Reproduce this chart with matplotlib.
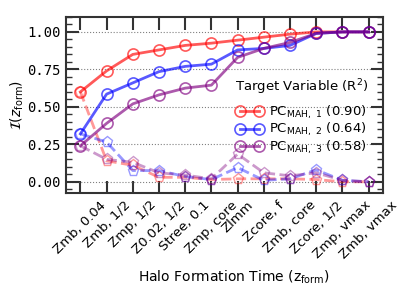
import matplotlib
matplotlib.use("Agg")
import matplotlib.pyplot as plt
from matplotlib.ticker import MultipleLocator

# formation-time definitions on the x axis
zform_labels = [
    "Zmb, 0.04", "Zmb, 1/2", "Zmp, 1/2", "Z0.02, 1/2", "Stree, 0.1", "Zmp, core",
    "Zlmm", "Zcore, f", "Zmb, core", "Zcore, 1/2", "Zmp, vmax", "Zmb, vmax",
]

# cumulative information (solid) and incremental information (dashed)
pc1_cum = [0.60, 0.74, 0.85, 0.88, 0.91, 0.925, 0.945, 0.965, 0.985, 1.0, 1.0, 1.0]
pc1_inc = [0.60, 0.14, 0.11, 0.03, 0.03, 0.015, 0.02, 0.02, 0.02, 0.015, 0.0, 0.0]
pc2_cum = [0.32, 0.585, 0.66, 0.735, 0.77, 0.785, 0.88, 0.89, 0.91, 0.99, 1.0, 1.0]
pc2_inc = [0.32, 0.265, 0.075, 0.075, 0.035, 0.015, 0.095, 0.01, 0.02, 0.08, 0.01, 0.0]
pc3_cum = [0.24, 0.39, 0.52, 0.58, 0.625, 0.645, 0.83, 0.89, 0.93, 0.99, 1.0, 1.0]
pc3_inc = [0.24, 0.15, 0.13, 0.06, 0.045, 0.02, 0.185, 0.06, 0.04, 0.06, 0.01, 0.0]

series = [
    (r"PC$_{\rm MAH,\ 1}$ (0.90)", "red", pc1_cum, pc1_inc),
    (r"PC$_{\rm MAH,\ 2}$ (0.64)", "blue", pc2_cum, pc2_inc),
    (r"PC$_{\rm MAH,\ 3}$ (0.58)", "purple", pc3_cum, pc3_inc),
]

fig = plt.figure(figsize=(4.15, 2.97), dpi=100)
ax = fig.add_axes([0.159, 0.350, 0.764, 0.593])

x = list(range(len(zform_labels)))
for label, color, cum, inc in series:
    ax.plot(x, inc, ls="--", lw=2, color=color, alpha=0.4, marker="p",
            ms=8, mfc="none", mew=1.0)
    ax.plot(x, cum, ls="-", lw=2, color=color, alpha=0.65, marker="o",
            ms=8, mfc="none", mew=1.2, label=label)

ax.set_xlim(-0.55, 11.55)
ax.set_xticks(x)
ax.set_xticklabels(zform_labels, rotation=45, ha="center", fontsize=9.5)
ax.set_yticks([0.0, 0.25, 0.5, 0.75, 1.0])
ax.set_yticklabels(["0.00", "0.25", "0.50", "0.75", "1.00"],
                   family="DejaVu Sans Mono", fontsize=10)
ax.yaxis.set_minor_locator(MultipleLocator(0.05))
ax.set_ylim(-0.075, 1.1)
ax.grid(axis="y", ls=":", color="grey", lw=0.8)

ax.tick_params(which="both", direction="in", top=True, right=True, width=1.5,
               color="#333333")
ax.tick_params(which="major", length=9)
ax.tick_params(which="minor", length=4, width=1.0)
ax.tick_params(axis="x", which="minor", bottom=False, top=False)
ax.tick_params(axis="x", pad=4)
for sp in ax.spines.values():
    sp.set_linewidth(1.5)
    sp.set_color("#333333")

ax.set_ylabel(r"$\mathcal{I}(z_{\rm form})$", fontsize=10, labelpad=1)
ax.set_xlabel(r"Halo Formation Time (z$_{\rm form}$)", fontsize=10)
ax.xaxis.set_label_coords(0.53, -0.43)

leg = ax.legend(title=r"Target Variable (R$^2$)", loc="center right",
                bbox_to_anchor=(0.99, 0.435), frameon=False, fontsize=9.5,
                title_fontsize=9.5, numpoints=2, handlelength=2.0,
                handletextpad=0.5, labelspacing=0.0)
leg._legend_box.sep = 5

fig.savefig("out.png", dpi=100)
